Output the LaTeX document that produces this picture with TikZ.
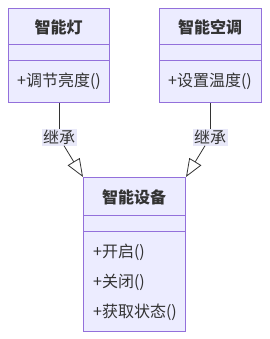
\documentclass[tikz,border=0pt]{standalone}
\usepackage{fontspec}
\setmainfont{Noto Sans CJK SC}
\usetikzlibrary{arrows.meta}
\definecolor{boxfill}{HTML}{ECECFF}
\definecolor{boxline}{HTML}{9370DB}
\definecolor{txt}{HTML}{333333}
\definecolor{lblbg}{HTML}{E8E8F8}
\tikzset{
  umlbox/.style={draw=boxline, fill=boxfill, line width=1pt, minimum width=#1, inner sep=0pt, anchor=north west},
  ttl/.style={font=\fontsize{16}{18}\selectfont\bfseries, text=txt, inner sep=0pt},
  meth/.style={font=\fontsize{16}{18}\selectfont, text=txt, inner sep=0pt, anchor=west},
  divider/.style={draw=boxline, line width=1pt},
  lbl/.style={fill=lblbg, font=\fontsize{16}{17}\selectfont, text=txt, inner xsep=1.5pt, inner ysep=0pt, minimum height=16pt},
  inh/.style={draw=txt, line width=0.8pt, -{Triangle[open, length=18pt, width=14pt, line width=0.8pt]}},
  plain/.style={draw=txt, line width=0.8pt}
}
\begin{document}
\begin{tikzpicture}[x=1pt, y=-1pt]
\useasboundingbox (0,0) rectangle (269,339);
% left box
\node[umlbox=101pt, minimum height=94pt] (light) at (8,8) {};
\draw[divider] (8,45) -- (109,45);
\draw[divider] (8,61) -- (109,61);
\node[ttl] (lightT) at (58.5,27) {智能灯};
\node[meth] (lightM) at (17,81) {+调节亮度()};
% right box
\node[umlbox=102pt, minimum height=94pt] (ac) at (159,8) {};
\draw[divider] (159,45) -- (261,45);
\draw[divider] (159,61) -- (261,61);
\node[ttl] (acT) at (210,27) {智能空调};
\node[meth] (acM) at (168,81) {+设置温度()};
% bottom box
\node[umlbox=102pt, minimum height=154pt] (dev) at (83,177) {};
\draw[divider] (83,215) -- (185,215);
\draw[divider] (83,231) -- (185,231);
\node[ttl] (devT) at (134,197) {智能设备};
\node[meth] (devM1) at (93,252) {+开启()};
\node[meth] (devM2) at (93,282) {+关闭()};
\node[meth] (devM3) at (93,312) {+获取状态()};
% labels
\node[lbl] (l1) at (59,137.5) {继承};
\node[lbl] (l2) at (210,137.5) {继承};
% edges
\draw[plain] (light.south -| l1) -- (l1);
\draw[inh] (l1) -- (dev.north west);
\draw[plain] (ac.south -| l2) -- (l2);
\draw[inh] (l2) -- (dev.north east);
\end{tikzpicture}
\end{document}
